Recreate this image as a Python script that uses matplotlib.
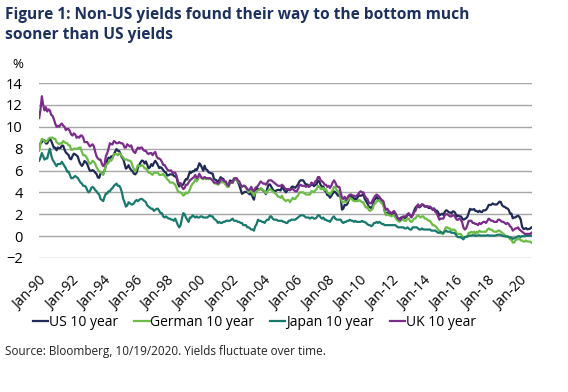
import matplotlib
matplotlib.use("Agg")
import matplotlib.pyplot as plt
import numpy as np

plt.rcParams['font.family'] = ['Open Sans', 'DejaVu Sans']

# monthly 10-year government bond yields (%), Jan 1990 .. Oct 2020
start_year = 1990
us_10y = [
    8.21, 8.47, 8.59, 8.79, 8.76, 8.48, 8.47, 8.75, 8.89, 8.72, 8.39, 8.08,
    8.09, 7.85, 8.11, 8.04, 8.07, 8.28, 8.27, 7.90, 7.65, 7.53, 7.42, 7.09,
    7.03, 7.34, 7.54, 7.48, 7.39, 7.26, 6.84, 6.59, 6.42, 6.59, 6.87, 6.77,
    6.60, 6.26, 5.98, 5.97, 6.04, 5.96, 5.81, 5.68, 5.36, 5.33, 5.72, 5.77,
    5.75, 5.97, 6.48, 6.97, 7.18, 7.10, 7.30, 7.24, 7.46, 7.74, 7.96, 7.81,
    7.78, 7.47, 7.20, 7.06, 6.63, 6.17, 6.28, 6.49, 6.20, 6.04, 5.93, 5.71,
    5.65, 5.81, 6.27, 6.51, 6.74, 6.91, 6.87, 6.64, 6.83, 6.53, 6.20, 6.30,
    6.58, 6.42, 6.69, 6.89, 6.71, 6.49, 6.22, 6.30, 6.21, 6.03, 5.88, 5.81,
    5.54, 5.57, 5.65, 5.64, 5.65, 5.50, 5.46, 5.34, 4.81, 4.53, 4.83, 4.65,
    4.72, 5.00, 5.23, 5.18, 5.54, 5.90, 5.79, 5.94, 5.92, 6.11, 6.03, 6.28,
    6.66, 6.52, 6.26, 5.99, 6.44, 6.10, 6.05, 5.83, 5.80, 5.74, 5.72, 5.24,
    5.16, 5.10, 4.89, 5.14, 5.39, 5.28, 5.24, 4.97, 4.73, 4.57, 4.65, 5.09,
    5.04, 4.91, 5.28, 5.21, 5.16, 4.93, 4.65, 4.26, 3.87, 3.94, 4.05, 4.03,
    4.05, 3.90, 3.81, 3.96, 3.57, 3.33, 3.98, 4.45, 4.27, 4.29, 4.30, 4.27,
    4.15, 4.08, 3.83, 4.35, 4.72, 4.73, 4.50, 4.28, 4.13, 4.10, 4.19, 4.23,
    4.22, 4.17, 4.50, 4.34, 4.14, 4.00, 4.18, 4.26, 4.20, 4.46, 4.54, 4.47,
    4.42, 4.57, 4.72, 4.99, 5.11, 5.11, 5.09, 4.88, 4.72, 4.73, 4.60, 4.56,
    4.76, 4.72, 4.56, 4.69, 4.75, 5.10, 5.00, 4.67, 4.52, 4.53, 4.15, 4.10,
    3.74, 3.74, 3.51, 3.68, 3.88, 4.10, 4.01, 3.89, 3.69, 3.81, 3.53, 2.42,
    2.52, 2.87, 2.82, 2.93, 3.29, 3.72, 3.56, 3.59, 3.40, 3.39, 3.40, 3.59,
    3.73, 3.69, 3.73, 3.85, 3.42, 3.20, 3.01, 2.70, 2.65, 2.54, 2.76, 3.29,
    3.39, 3.58, 3.41, 3.46, 3.17, 3.00, 3.00, 2.30, 1.98, 2.15, 2.01, 1.98,
    1.97, 1.97, 2.17, 2.05, 1.80, 1.62, 1.53, 1.68, 1.72, 1.75, 1.65, 1.72,
    1.91, 1.98, 1.96, 1.76, 1.93, 2.30, 2.58, 2.74, 2.81, 2.62, 2.72, 2.90,
    2.86, 2.71, 2.72, 2.71, 2.56, 2.60, 2.54, 2.42, 2.53, 2.30, 2.33, 2.21,
    1.88, 1.98, 2.04, 1.94, 2.20, 2.36, 2.32, 2.17, 2.17, 2.07, 2.26, 2.24,
    2.09, 1.78, 1.89, 1.81, 1.81, 1.64, 1.50, 1.56, 1.63, 1.76, 2.14, 2.49,
    2.43, 2.42, 2.48, 2.30, 2.30, 2.19, 2.32, 2.21, 2.20, 2.36, 2.35, 2.40,
    2.58, 2.86, 2.84, 2.87, 2.98, 2.91, 2.89, 2.89, 3.00, 3.15, 3.12, 2.83,
    2.71, 2.68, 2.57, 2.53, 2.40, 2.07, 2.06, 1.63, 1.70, 1.71, 1.81, 1.86,
    1.76, 1.50, 0.87, 0.66, 0.67, 0.73, 0.62, 0.65, 0.68, 0.79,
]
german_10y = [
    7.8, 8.5, 8.9, 8.8, 8.7, 8.6, 8.7, 8.9, 9.0, 9.0, 9.0, 8.9,
    8.9, 8.6, 8.5, 8.4, 8.5, 8.5, 8.7, 8.6, 8.5, 8.5, 8.3, 8.3,
    7.9, 7.9, 8.0, 8.0, 8.0, 8.0, 8.1, 8.1, 7.7, 7.4, 7.4, 7.3,
    7.1, 6.8, 6.6, 6.7, 6.9, 6.8, 6.6, 6.3, 6.1, 5.9, 5.9, 5.7,
    5.6, 6.0, 6.5, 6.6, 6.7, 7.0, 6.9, 7.1, 7.5, 7.5, 7.5, 7.4,
    7.6, 7.5, 7.3, 7.2, 7.0, 7.0, 7.0, 6.9, 6.9, 6.8, 6.4, 6.1,
    5.9, 6.2, 6.5, 6.4, 6.4, 6.5, 6.4, 6.2, 6.2, 6.0, 5.8, 5.8,
    5.7, 5.6, 5.8, 5.8, 5.8, 5.8, 5.6, 5.6, 5.6, 5.7, 5.5, 5.4,
    5.2, 5.1, 4.9, 4.9, 4.9, 4.8, 4.7, 4.4, 4.1, 4.0, 4.0, 3.9,
    3.7, 3.8, 4.0, 3.9, 4.0, 4.3, 4.6, 4.8, 4.9, 5.2, 5.0, 5.2,
    5.5, 5.4, 5.3, 5.2, 5.4, 5.2, 5.3, 5.2, 5.3, 5.2, 5.1, 4.9,
    4.8, 4.8, 4.7, 4.8, 5.0, 4.9, 5.0, 4.8, 4.7, 4.5, 4.5, 4.8,
    4.9, 4.9, 5.1, 5.2, 5.2, 5.0, 4.9, 4.7, 4.5, 4.6, 4.6, 4.4,
    4.2, 4.0, 4.1, 4.2, 3.9, 3.7, 4.0, 4.1, 4.2, 4.2, 4.4, 4.3,
    4.2, 4.1, 3.9, 4.1, 4.2, 4.3, 4.2, 4.1, 4.0, 3.9, 3.8, 3.6,
    3.6, 3.5, 3.7, 3.4, 3.3, 3.2, 3.3, 3.3, 3.1, 3.3, 3.5, 3.4,
    3.4, 3.6, 3.7, 4.0, 4.0, 4.0, 4.0, 3.9, 3.8, 3.8, 3.8, 3.8,
    4.1, 4.1, 4.0, 4.2, 4.3, 4.6, 4.5, 4.3, 4.3, 4.4, 4.2, 4.3,
    4.0, 3.9, 3.8, 4.0, 4.2, 4.5, 4.5, 4.2, 4.1, 3.9, 3.6, 3.1,
    3.1, 3.2, 3.1, 3.2, 3.4, 3.5, 3.4, 3.3, 3.2, 3.2, 3.2, 3.2,
    3.3, 3.2, 3.1, 3.1, 2.8, 2.6, 2.7, 2.4, 2.3, 2.4, 2.5, 2.9,
    3.0, 3.2, 3.2, 3.3, 3.1, 3.0, 2.8, 2.3, 1.9, 2.0, 1.9, 1.9,
    1.8, 1.9, 1.9, 1.7, 1.5, 1.4, 1.3, 1.4, 1.5, 1.5, 1.4, 1.4,
    1.6, 1.6, 1.4, 1.3, 1.4, 1.6, 1.6, 1.8, 1.9, 1.8, 1.7, 1.8,
    1.8, 1.6, 1.6, 1.5, 1.4, 1.4, 1.2, 1.0, 1.0, 0.9, 0.8, 0.6,
    0.5, 0.3, 0.2, 0.2, 0.6, 0.8, 0.8, 0.7, 0.7, 0.5, 0.6, 0.6,
    0.5, 0.2, 0.2, 0.2, 0.2, 0.0, -0.1, -0.1, -0.1, 0.0, 0.3, 0.3,
    0.4, 0.3, 0.4, 0.2, 0.4, 0.3, 0.5, 0.4, 0.4, 0.4, 0.4, 0.4,
    0.6, 0.7, 0.6, 0.6, 0.5, 0.4, 0.4, 0.4, 0.5, 0.5, 0.4, 0.3,
    0.2, 0.1, 0.0, 0.0, -0.1, -0.3, -0.3, -0.6, -0.6, -0.4, -0.3, -0.3,
    -0.2, -0.4, -0.4, -0.5, -0.5, -0.4, -0.5, -0.5, -0.5, -0.6,
]
japan_10y = [
    6.9, 7.2, 7.6, 7.3, 7.0, 7.1, 7.1, 7.6, 8.0, 7.4, 7.0, 6.8,
    6.6, 6.4, 6.6, 6.6, 6.6, 6.8, 6.6, 6.4, 6.2, 5.9, 5.9, 5.6,
    5.3, 5.3, 5.4, 5.5, 5.4, 5.3, 5.1, 4.9, 4.8, 4.6, 4.6, 4.5,
    4.2, 4.0, 4.1, 4.4, 4.5, 4.4, 4.2, 4.1, 3.9, 3.8, 3.4, 3.3,
    3.2, 3.6, 3.9, 3.9, 4.1, 4.1, 4.3, 4.4, 4.6, 4.7, 4.8, 4.6,
    4.6, 4.4, 4.0, 3.4, 3.1, 2.7, 2.8, 3.1, 3.0, 2.9, 2.9, 3.0,
    3.2, 3.3, 3.2, 3.3, 3.4, 3.4, 3.3, 3.2, 3.1, 2.8, 2.7, 2.6,
    2.5, 2.5, 2.3, 2.4, 2.5, 2.5, 2.3, 2.1, 2.1, 1.8, 1.7, 1.8,
    1.7, 1.6, 1.6, 1.5, 1.5, 1.4, 1.6, 1.3, 1.0, 0.8, 1.0, 1.6,
    2.1, 2.0, 1.7, 1.5, 1.3, 1.7, 1.7, 1.9, 1.8, 1.7, 1.8, 1.7,
    1.7, 1.8, 1.8, 1.7, 1.7, 1.7, 1.7, 1.8, 1.9, 1.8, 1.8, 1.6,
    1.5, 1.4, 1.2, 1.3, 1.2, 1.2, 1.3, 1.3, 1.4, 1.4, 1.4, 1.4,
    1.5, 1.6, 1.4, 1.4, 1.4, 1.3, 1.3, 1.2, 1.2, 1.0, 1.0, 1.0,
    0.8, 0.8, 0.7, 0.6, 0.6, 0.5, 0.9, 1.1, 1.5, 1.4, 1.4, 1.3,
    1.3, 1.2, 1.4, 1.5, 1.5, 1.8, 1.8, 1.6, 1.5, 1.5, 1.5, 1.4,
    1.4, 1.4, 1.4, 1.3, 1.3, 1.2, 1.2, 1.4, 1.4, 1.5, 1.5, 1.5,
    1.5, 1.6, 1.7, 1.8, 1.9, 1.9, 1.9, 1.8, 1.7, 1.7, 1.7, 1.6,
    1.7, 1.7, 1.6, 1.6, 1.7, 1.9, 1.9, 1.7, 1.6, 1.7, 1.5, 1.5,
    1.4, 1.4, 1.3, 1.5, 1.7, 1.8, 1.6, 1.5, 1.5, 1.5, 1.5, 1.3,
    1.2, 1.3, 1.3, 1.4, 1.4, 1.5, 1.4, 1.4, 1.3, 1.4, 1.3, 1.3,
    1.3, 1.3, 1.4, 1.3, 1.3, 1.2, 1.1, 1.0, 1.0, 0.9, 1.0, 1.2,
    1.2, 1.3, 1.2, 1.3, 1.2, 1.1, 1.1, 1.0, 1.0, 1.0, 1.0, 1.0,
    1.0, 1.0, 1.0, 1.0, 0.9, 0.8, 0.8, 0.8, 0.8, 0.8, 0.7, 0.7,
    0.8, 0.7, 0.6, 0.6, 0.8, 0.8, 0.8, 0.8, 0.7, 0.6, 0.6, 0.7,
    0.6, 0.6, 0.6, 0.6, 0.6, 0.6, 0.5, 0.5, 0.5, 0.5, 0.4, 0.3,
    0.3, 0.4, 0.3, 0.3, 0.4, 0.5, 0.4, 0.4, 0.4, 0.3, 0.3, 0.3,
    0.2, 0.0, -0.1, -0.1, -0.1, -0.2, -0.3, -0.1, -0.05, -0.05, 0.0, 0.05,
    0.05, 0.08, 0.07, 0.02, 0.04, 0.06, 0.08, 0.04, 0.03, 0.06, 0.04, 0.05,
    0.08, 0.06, 0.04, 0.05, 0.05, 0.03, 0.05, 0.10, 0.12, 0.14, 0.10, 0.03,
    0.0, -0.03, -0.05, -0.05, -0.08, -0.13, -0.14, -0.25, -0.2, -0.15, -0.08, -0.02,
    -0.01, -0.08, 0.0, -0.02, -0.01, 0.02, 0.02, 0.03, 0.03, 0.04,
]
uk_10y = [
    10.8, 11.6, 12.8, 12.0, 11.5, 11.8, 11.4, 11.6, 11.5, 11.1, 11.0, 10.7,
    10.3, 10.0, 10.1, 10.0, 10.2, 10.3, 10.1, 10.0, 9.7, 9.8, 9.8, 9.6,
    9.3, 9.2, 9.4, 9.3, 9.0, 9.1, 9.0, 9.2, 9.2, 9.0, 8.6, 8.6,
    8.6, 8.4, 8.2, 8.3, 8.4, 8.2, 7.7, 7.3, 7.1, 7.0, 7.0, 6.6,
    6.4, 6.6, 7.3, 7.6, 8.0, 8.5, 8.4, 8.4, 8.7, 8.6, 8.5, 8.5,
    8.6, 8.5, 8.5, 8.4, 8.1, 8.1, 8.4, 8.3, 8.2, 8.3, 7.9, 7.7,
    7.6, 7.9, 8.1, 8.0, 8.1, 8.1, 7.9, 7.8, 7.8, 7.6, 7.5, 7.6,
    7.6, 7.4, 7.6, 7.7, 7.3, 7.1, 7.1, 7.0, 6.8, 6.5, 6.5, 6.3,
    6.1, 6.0, 6.0, 6.0, 5.8, 5.8, 5.8, 5.5, 5.0, 4.8, 4.8, 4.5,
    4.3, 4.4, 4.7, 4.7, 4.9, 5.1, 5.2, 5.3, 5.4, 5.6, 5.3, 5.4,
    5.7, 5.5, 5.3, 5.3, 5.4, 5.3, 5.3, 5.3, 5.3, 5.2, 5.1, 4.9,
    4.9, 4.9, 4.8, 4.9, 5.2, 5.2, 5.1, 5.0, 5.0, 4.7, 4.6, 4.9,
    4.9, 4.9, 5.2, 5.3, 5.3, 5.1, 5.0, 4.7, 4.5, 4.6, 4.6, 4.5,
    4.3, 4.2, 4.3, 4.5, 4.2, 4.1, 4.4, 4.5, 4.6, 4.8, 5.0, 4.9,
    4.8, 4.8, 4.7, 4.9, 5.1, 5.1, 5.1, 5.0, 4.9, 4.8, 4.7, 4.6,
    4.6, 4.6, 4.7, 4.6, 4.4, 4.3, 4.3, 4.3, 4.2, 4.3, 4.3, 4.2,
    4.1, 4.1, 4.3, 4.6, 4.7, 4.6, 4.6, 4.6, 4.5, 4.6, 4.5, 4.6,
    4.9, 4.8, 4.8, 5.0, 5.1, 5.4, 5.4, 5.1, 5.0, 4.9, 4.7, 4.7,
    4.5, 4.6, 4.4, 4.6, 4.9, 5.1, 4.9, 4.6, 4.5, 4.5, 4.0, 3.5,
    3.4, 3.6, 3.3, 3.5, 3.7, 3.8, 3.8, 3.7, 3.7, 3.6, 3.7, 3.8,
    4.0, 4.1, 4.0, 4.0, 3.7, 3.5, 3.4, 3.1, 3.0, 3.0, 3.3, 3.5,
    3.7, 3.8, 3.7, 3.6, 3.4, 3.3, 3.2, 2.7, 2.4, 2.5, 2.3, 2.2,
    2.0, 2.2, 2.3, 2.1, 1.8, 1.6, 1.5, 1.5, 1.7, 1.8, 1.8, 1.8,
    2.0, 2.1, 1.9, 1.7, 1.9, 2.2, 2.3, 2.6, 2.9, 2.7, 2.8, 2.9,
    2.8, 2.7, 2.7, 2.7, 2.7, 2.7, 2.6, 2.4, 2.5, 2.2, 2.1, 1.8,
    1.5, 1.6, 1.6, 1.6, 1.9, 2.0, 2.0, 1.9, 1.8, 1.8, 1.9, 1.9,
    1.7, 1.5, 1.5, 1.6, 1.5, 1.3, 0.8, 0.6, 0.7, 1.0, 1.4, 1.4,
    1.4, 1.2, 1.2, 1.1, 1.1, 1.0, 1.2, 1.1, 1.2, 1.3, 1.3, 1.2,
    1.4, 1.6, 1.5, 1.4, 1.4, 1.3, 1.3, 1.3, 1.5, 1.5, 1.4, 1.3,
    1.3, 1.2, 1.1, 1.2, 1.1, 0.9, 0.8, 0.5, 0.6, 0.7, 0.7, 0.8,
    0.6, 0.5, 0.4, 0.3, 0.2, 0.2, 0.2, 0.2, 0.2, 0.3,
]
series_names = ["US 10 year", "German 10 year", "Japan 10 year", "UK 10 year"]
series_colors = ["#1f2a56", "#6cbd45", "#177a6c", "#7a2d8a"]
tick_years = list(range(1990, 2021, 2))
tick_labels = [f"Jan-{y % 100:02d}" for y in tick_years]
y_ticks = list(range(-2, 15, 2))

fig = plt.figure(figsize=(5.68, 3.92), dpi=100)
ax = fig.add_axes([0.069, 0.342, 0.868, 0.446])

for vals, name, col in zip([us_10y, german_10y, japan_10y, uk_10y], series_names, series_colors):
    t = start_year + np.arange(len(vals)) / 12.0
    ax.plot(t, vals, color=col, lw=1.6, label=name)

ax.set_xlim(1990, 2020.8)
ax.set_ylim(-2, 14)
ax.set_yticks(y_ticks)
ax.set_xticks(tick_years)
ax.set_xticklabels(tick_labels, rotation=45, ha='right', rotation_mode='anchor', fontsize=10)
ax.tick_params(axis='y', length=0, pad=12, labelsize=10.5)
ax.tick_params(axis='x', length=0, pad=11)
ax.grid(axis='y', color='#a6a6a6', lw=1)
ax.set_axisbelow(True)
for s in ax.spines.values():
    s.set_visible(False)

fig.text(0.022, 0.827, "%", fontsize=9.5)

fig.text(0.009, 0.982, "Figure 1: Non-US yields found their way to the bottom much\nsooner than US yields",
         fontsize=11.2, fontweight='bold', color='#1c3160', va='top', linespacing=1.3)

fig.legend(loc='center', bbox_to_anchor=(0.448, 0.178), ncol=4, frameon=False, fontsize=10,
           handlelength=1.1, handletextpad=0.05, columnspacing=1.15)

fig.text(0.009, 0.095, "Source: Bloomberg, 10/19/2020. Yields fluctuate over time.", fontsize=8.5, color='#222222')

fig.savefig("out.png", dpi=100)
